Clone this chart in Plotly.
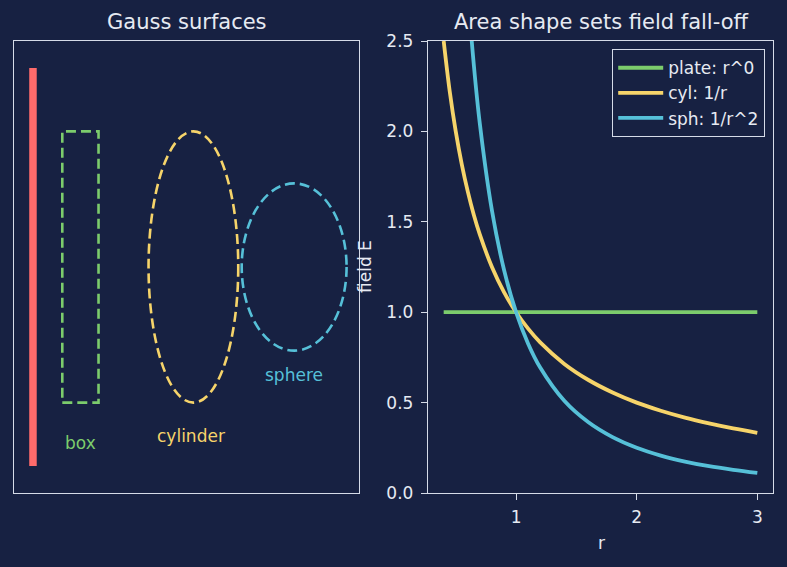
import plotly.graph_objects as go

# ---- data ----
r_vals = [0.4, 0.45, 0.5, 0.55, 0.6, 0.65, 0.7, 0.8, 0.9, 1.0, 1.1, 1.2, 1.4, 1.6, 1.8, 2.0, 2.2, 2.4, 2.6, 2.8, 3.0]
cyl_vals = [2.5, 2.222, 2.0, 1.818, 1.667, 1.538, 1.429, 1.25, 1.111, 1.0, 0.909, 0.833, 0.714, 0.625, 0.556, 0.5, 0.455, 0.417, 0.385, 0.357, 0.333]
sph_vals = [6.25, 4.938, 4.0, 3.306, 2.778, 2.367, 2.041, 1.563, 1.235, 1.0, 0.826, 0.694, 0.510, 0.391, 0.309, 0.25, 0.207, 0.174, 0.148, 0.128, 0.111]
plate_r = [0.4, 3.0]
plate_vals = [1.0, 1.0]

# left panel geometry (data units)
sheet_x = [0.55, 0.55]
sheet_y = [0.6, 9.4]
box_x = [1.4, 2.45]
box_y = [2.0, 8.0]
cyl_center = [5.2, 5.0]
cyl_radii = [1.3, 3.0]
sph_center = [8.12, 5.0]
sph_radii = [1.52, 1.85]
label_text = ["box", "cylinder", "sphere"]
label_x = [1.94, 5.13, 8.12]
label_y = [1.1, 1.25, 2.6]

BG = "#172142"
FG = "#e6eaf2"
SPINE = "#d5dbe8"
RED = "#ff6b6b"
GREEN = "#7ccc6c"
YELLOW = "#f6d46a"
CYAN = "#56c0d8"
FONT = "DejaVu Sans"
TICK = 17
TITLE = 21

fig = go.Figure()

# right panel curves
fig.add_trace(go.Scatter(x=plate_r, y=plate_vals, mode="lines", name="plate: r^0",
                         line=dict(color=GREEN, width=3.8), xaxis="x2", yaxis="y2"))
fig.add_trace(go.Scatter(x=r_vals, y=cyl_vals, mode="lines", name="cyl: 1/r",
                         line=dict(color=YELLOW, width=3.8, shape="spline"), xaxis="x2", yaxis="y2"))
fig.add_trace(go.Scatter(x=r_vals, y=sph_vals, mode="lines", name="sph: 1/r^2",
                         line=dict(color=CYAN, width=3.8, shape="spline"), xaxis="x2", yaxis="y2"))

# left panel: charged sheet
fig.add_trace(go.Scatter(x=sheet_x, y=sheet_y, mode="lines", showlegend=False,
                         line=dict(color=RED, width=7.5), xaxis="x", yaxis="y", hoverinfo="skip"))

DASH = "10px,5px"
shapes = [
    dict(type="rect", xref="x", yref="y", x0=box_x[0], x1=box_x[1], y0=box_y[0], y1=box_y[1],
         line=dict(color=GREEN, width=2.6, dash=DASH)),
    dict(type="circle", xref="x", yref="y",
         x0=cyl_center[0] - cyl_radii[0], x1=cyl_center[0] + cyl_radii[0],
         y0=cyl_center[1] - cyl_radii[1], y1=cyl_center[1] + cyl_radii[1],
         line=dict(color=YELLOW, width=2.6, dash=DASH)),
    dict(type="circle", xref="x", yref="y",
         x0=sph_center[0] - sph_radii[0], x1=sph_center[0] + sph_radii[0],
         y0=sph_center[1] - sph_radii[1], y1=sph_center[1] + sph_radii[1],
         line=dict(color=CYAN, width=2.6, dash=DASH)),
]

annotations = []
for t, x, y, c in zip(label_text, label_x, label_y, [GREEN, YELLOW, CYAN]):
    annotations.append(dict(text=t, x=x, y=y, xref="x", yref="y", showarrow=False,
                            font=dict(color=c, size=TICK, family=FONT)))

# titles
annotations.append(dict(text="Gauss surfaces", x=(14 + 359) / 2 / 787, y=1 - 22 / 567, xref="paper", yref="paper",
                        showarrow=False, xanchor="center", yanchor="middle",
                        font=dict(color=FG, size=TITLE, family=FONT)))
annotations.append(dict(text="Area shape sets field fall-off", x=(428 + 773) / 2 / 787, y=1 - 22 / 567,
                        xref="paper", yref="paper", showarrow=False, xanchor="center", yanchor="middle",
                        font=dict(color=FG, size=TITLE, family=FONT)))
# axis labels
annotations.append(dict(text="field E", x=365 / 787, y=1 - 267 / 567, xref="paper", yref="paper",
                        showarrow=False, textangle=-90, xanchor="center", yanchor="middle",
                        font=dict(color=FG, size=TICK, family=FONT)))
annotations.append(dict(text="r", x=601 / 787, y=1 - 543 / 567, xref="paper", yref="paper",
                        showarrow=False, xanchor="center", yanchor="middle",
                        font=dict(color=FG, size=TICK, family=FONT)))

ydom = [1 - 493 / 567, 1 - 41 / 567]

fig.update_layout(
    width=787, height=567,
    paper_bgcolor=BG, plot_bgcolor=BG,
    margin=dict(l=0, r=0, t=0, b=0, pad=0, autoexpand=False),
    font=dict(family=FONT, color=FG, size=TICK),
    shapes=shapes,
    annotations=annotations,
    showlegend=True,
    legend=dict(x=765 / 787, y=1 - 49 / 567, xanchor="right", yanchor="top",
                bgcolor=BG, bordercolor=SPINE, borderwidth=1.2, itemwidth=45,
                font=dict(color=FG, size=TICK, family=FONT), tracegroupgap=0),
    xaxis=dict(domain=[14 / 787, 359 / 787], range=[0, 10], showgrid=False, zeroline=False,
               showticklabels=False, ticks="", showline=True, mirror=True, linecolor=SPINE, linewidth=1.4),
    yaxis=dict(domain=ydom, range=[0, 10], showgrid=False, zeroline=False,
               showticklabels=False, ticks="", showline=True, mirror=True, linecolor=SPINE, linewidth=1.4),
    xaxis2=dict(domain=[428 / 787, 773 / 787], range=[0.27, 3.13], anchor="y2", showgrid=False, zeroline=False,
                tickvals=[1, 2, 3], ticktext=["1", "2", "3"], ticks="outside", ticklen=6, tickwidth=1.4,
                tickcolor=SPINE, showline=True, mirror=True, linecolor=SPINE, linewidth=1.4,
                ticklabelstandoff=2,
                tickfont=dict(color=FG, size=TICK, family=FONT)),
    yaxis2=dict(domain=ydom, range=[0, 2.5], anchor="x2", showgrid=False, zeroline=False,
                tickvals=[0, 0.5, 1.0, 1.5, 2.0, 2.5], ticktext=["0.0", "0.5", "1.0", "1.5", "2.0", "2.5"],
                ticks="outside", ticklen=6, tickwidth=1.4, tickcolor=SPINE,
                showline=True, mirror=True, linecolor=SPINE, linewidth=1.4,
                ticklabelstandoff=4,
                tickfont=dict(color=FG, size=TICK, family=FONT)),
)

fig.write_html("out.html")
